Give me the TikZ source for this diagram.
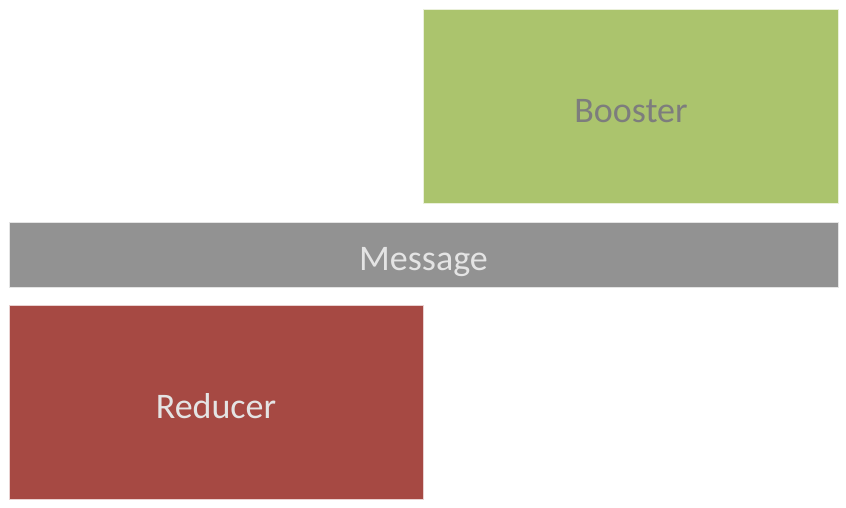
\documentclass[tikz,border=0pt]{standalone}
\usepackage{fontspec}
\setmainfont{Carlito}
\definecolor{boostgreen}{HTML}{ABC46D}
\definecolor{msggray}{HTML}{929292}
\definecolor{redred}{HTML}{A64943}
\definecolor{darktext}{HTML}{7D7D7D}
\definecolor{lighttext}{HTML}{E4E4E4}
\begin{document}
\begin{tikzpicture}[x=1pt,y=-1pt,
  blockbox/.style={draw=white!75!#1, line width=0.8pt, fill=#1, inner sep=0pt},
  blocktext/.style={anchor=base, inner sep=0pt, font=\fontsize{36}{42}\selectfont}]
\useasboundingbox[fill=white] (0,0) rectangle (846,507);
\path[blockbox=boostgreen] (423.5,9) rectangle (838,203);
\path[blockbox=msggray] (9,222.5) rectangle (838,287.5);
\path[blockbox=redred] (9,305.5) rectangle (423.5,499.5);
\node[blocktext, text=darktext] (booster) at (631,122) {Booster};
\node[blocktext, text=lighttext] (message) at (423.5,270) {Message};
\node[blocktext, text=lighttext] (reducer) at (216,418.5) {Reducer};
\end{tikzpicture}
\end{document}
